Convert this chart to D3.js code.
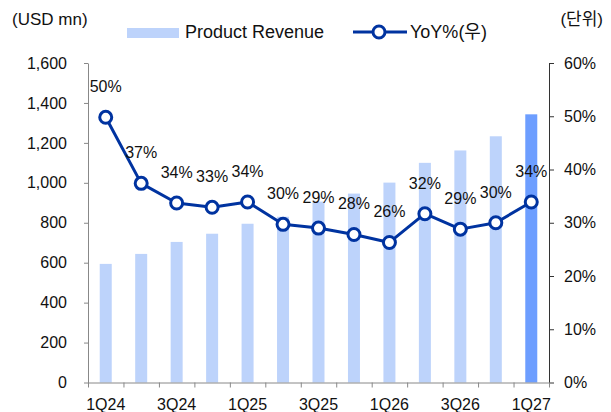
<!DOCTYPE html>
<html>
<head>
<meta charset="utf-8">
<script src="https://cdn.jsdelivr.net/npm/d3@7"></script>
<style>
  body { margin: 0; background: #fff; }
  svg { display: block; font-family: "Liberation Sans", Arial, "Noto Sans CJK KR", sans-serif; }
</style>
</head>
<body>
<div id="chart"></div>
<script>
const quarters = ["1Q24", "2Q24", "3Q24", "4Q24", "1Q25", "2Q25", "3Q25", "4Q25", "1Q26", "2Q26", "3Q26", "4Q26", "1Q27"];
const revenue = [594, 644, 704, 745, 795, 830, 906, 946, 1001, 1100, 1162, 1233, 1343];
const yoy = [49.8, 37.4, 33.7, 32.9, 33.9, 29.7, 29.0, 27.8, 26.3, 31.7, 28.8, 30.0, 33.9];
const yoyLabels = ["50%", "37%", "34%", "33%", "34%", "30%", "29%", "28%", "26%", "32%", "29%", "30%", "34%"];
const leftTicks = [0, 200, 400, 600, 800, 1000, 1200, 1400, 1600];
const rightTicks = [0, 10, 20, 30, 40, 50, 60];

const width = 611;
const height = 412;
const margin = { top: 63, right: 62, bottom: 30, left: 88 };

const barColor = "#bdd3fb";
const lastBarColor = "#6d9eff";
const lineColor = "#0033a0";

const svg = d3.select("#chart")
  .append("svg")
  .attr("width", width)
  .attr("height", height)
  .attr("viewBox", [0, 0, width, height]);

// Scales
const x = d3.scaleBand()
  .domain(quarters)
  .range([margin.left, width - margin.right])
  .paddingInner(0);

const yL = d3.scaleLinear()
  .domain([0, 1600])
  .range([height - margin.bottom + 0.5, margin.top]);

const yR = d3.scaleLinear()
  .domain([0, 60])
  .range([height - margin.bottom + 0.5, margin.top]);

const edge = d3.scaleLinear()
  .domain([0, quarters.length])
  .range([margin.left, width - margin.right]);

const barW = 12;
const cx = d => x(d) + x.bandwidth() / 2;

// Bars
svg.append("g")
  .selectAll("rect")
  .data(quarters)
  .join("rect")
  .attr("x", d => cx(d) - barW / 2)
  .attr("width", barW)
  .attr("y", (d, i) => yL(revenue[i]))
  .attr("height", (d, i) => yL(0) - yL(revenue[i]))
  .attr("fill", (d, i) => i === quarters.length - 1 ? lastBarColor : barColor);

// Axes
svg.append("g")
  .attr("transform", `translate(${margin.left},0)`)
  .call(d3.axisLeft(yL).tickValues(leftTicks).tickFormat(d3.format(",")).tickSize(4).tickSizeOuter(0).tickPadding(17))
  .call(g => g.selectAll("line,path").attr("stroke", "#888"))
  .call(g => g.selectAll("text").attr("font-size", 16).attr("fill", "#111"));

svg.append("g")
  .attr("transform", `translate(${width - margin.right},0)`)
  .call(d3.axisRight(yR).tickValues(rightTicks).tickFormat(d => d + "%").tickSize(5).tickSizeOuter(0).tickPadding(10))
  .call(g => g.selectAll("line,path").attr("stroke", "#333"))
  .call(g => g.selectAll("text").attr("font-size", 16).attr("fill", "#111"));

svg.append("g")
  .attr("transform", `translate(0,${yL(0)})`)
  .call(d3.axisBottom(edge).ticks(quarters.length).tickFormat("").tickSize(5).tickSizeOuter(0))
  .call(g => g.selectAll("line,path").attr("stroke", "#888"));

svg.append("g")
  .selectAll("text")
  .data(quarters.filter((d, i) => i % 2 === 0))
  .join("text")
  .attr("x", cx)
  .attr("y", 410)
  .attr("text-anchor", "middle")
  .attr("font-size", 16)
  .attr("fill", "#111")
  .text(d => d);

// YoY line
const line = d3.line()
  .x((d, i) => cx(quarters[i]))
  .y(d => yR(d));

svg.append("path")
  .datum(yoy)
  .attr("fill", "none")
  .attr("stroke", lineColor)
  .attr("stroke-width", 3)
  .attr("stroke-linejoin", "round")
  .attr("d", line);

svg.append("g")
  .selectAll("circle")
  .data(yoy)
  .join("circle")
  .attr("cx", (d, i) => cx(quarters[i]))
  .attr("cy", d => yR(d))
  .attr("r", 6)
  .attr("fill", "#fff")
  .attr("stroke", lineColor)
  .attr("stroke-width", 3);

svg.append("g")
  .selectAll("text")
  .data(yoy)
  .join("text")
  .attr("x", (d, i) => cx(quarters[i]))
  .attr("y", d => yR(d) - 25)
  .attr("text-anchor", "middle")
  .attr("font-size", 16)
  .attr("fill", "#111")
  .text((d, i) => yoyLabels[i]);

// Unit labels
svg.append("text")
  .attr("x", 12).attr("y", 25)
  .attr("font-size", 17).attr("fill", "#111")
  .text("(USD mn)");

svg.append("text")
  .attr("x", 603).attr("y", 25)
  .attr("text-anchor", "end")
  .attr("font-size", 17).attr("fill", "#111")
  .text("(단위)");

// Legend
const legend = svg.append("g");
legend.append("rect")
  .attr("x", 127).attr("y", 28).attr("width", 52).attr("height", 10)
  .attr("fill", barColor);
legend.append("text")
  .attr("x", 185).attr("y", 38)
  .attr("font-size", 18).attr("fill", "#111")
  .text("Product Revenue");
legend.append("line")
  .attr("x1", 353).attr("x2", 407).attr("y1", 32).attr("y2", 32)
  .attr("stroke", lineColor).attr("stroke-width", 3);
legend.append("circle")
  .attr("cx", 379).attr("cy", 32).attr("r", 6)
  .attr("fill", "#fff").attr("stroke", lineColor).attr("stroke-width", 3);
legend.append("text")
  .attr("x", 410).attr("y", 38)
  .attr("font-size", 18).attr("fill", "#111")
  .text("YoY%(우)");
</script>
</body>
</html>
